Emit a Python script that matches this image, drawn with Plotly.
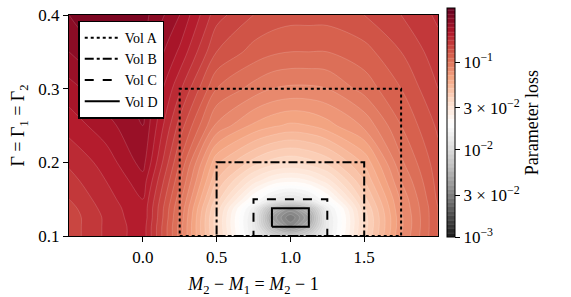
import plotly.graph_objects as go

# grid (x = M2 - 1, y = Gamma), values are log10(parameter loss)
x_vals = [-0.5, -0.25, 0.0, 0.25, 0.5, 0.75, 0.875, 1.0, 1.125, 1.25, 1.5, 1.75, 2.0]
y_vals = [0.1, 0.1125, 0.125, 0.1375, 0.15, 0.175, 0.2, 0.25, 0.3, 0.35, 0.4]
log_loss = [
    [-0.83, -0.74, -0.67, -1.02, -1.42, -1.85, -2.05, -2.15, -2.05, -1.85, -1.42, -1.10, -0.90],
    [-0.83, -0.74, -0.67, -1.02, -1.43, -1.87, -2.25, -2.45, -2.25, -1.87, -1.43, -1.11, -0.90],
    [-0.83, -0.74, -0.66, -1.01, -1.43, -1.87, -2.35, -2.55, -2.35, -1.87, -1.43, -1.11, -0.90],
    [-0.82, -0.73, -0.66, -1.00, -1.41, -1.83, -2.22, -2.40, -2.22, -1.83, -1.41, -1.10, -0.90],
    [-0.80, -0.72, -0.65, -0.98, -1.37, -1.70, -1.85, -1.92, -1.85, -1.70, -1.37, -1.09, -0.89],
    [-0.77, -0.70, -0.62, -0.94, -1.30, -1.52, -1.60, -1.63, -1.60, -1.52, -1.30, -1.05, -0.88],
    [-0.74, -0.68, -0.58, -0.90, -1.24, -1.37, -1.42, -1.44, -1.42, -1.38, -1.24, -1.01, -0.87],
    [-0.68, -0.62, -0.55, -0.82, -1.06, -1.16, -1.19, -1.21, -1.20, -1.17, -1.09, -0.95, -0.84],
    [-0.62, -0.56, -0.54, -0.74, -0.95, -1.02, -1.05, -1.06, -1.06, -1.05, -0.98, -0.90, -0.80],
    [-0.55, -0.50, -0.52, -0.66, -0.85, -0.92, -0.94, -0.95, -0.95, -0.95, -0.92, -0.85, -0.77],
    [-0.50, -0.47, -0.48, -0.60, -0.78, -0.85, -0.87, -0.88, -0.88, -0.88, -0.85, -0.80, -0.74],
]

# volumes: names, dash styles and bounds
vol_names = ["Vol A", "Vol B", "Vol C", "Vol D"]
vol_dash = ["dot", "dashdot", "dash", "solid"]
vol_x0 = [0.25, 0.5, 0.75, 0.875]
vol_x1 = [1.75, 1.5, 1.25, 1.125]
vol_y0 = [0.1, 0.1, 0.1, 0.1125]
vol_y1 = [0.3, 0.2, 0.15, 0.1375]

# colorbar ticks (log10 positions) and labels
cb_tickvals = [-1.0, -1.5229, -2.0, -2.5229, -3.0]
cb_ticktext = ["10<sup>−1</sup>", "3 × 10<sup>−2</sup>", "10<sup>−2</sup>",
               "3 × 10<sup>−2</sup>", "10<sup>−3</sup>"]

x_ticks = [0.0, 0.5, 1.0, 1.5]
x_ticktext = ["0.0", "0.5", "1.0", "1.5"]
y_ticks = [0.1, 0.2, 0.3, 0.4]
y_ticktext = ["0.1", "0.2", "0.3", "0.4"]

FONT = "Liberation Serif"
rdgy_r = [
    [0.0, "#1a1a1a"], [0.1, "#4d4d4d"], [0.2, "#878787"], [0.3, "#bababa"],
    [0.4, "#e0e0e0"], [0.5, "#ffffff"], [0.6, "#fddbc7"], [0.7, "#f4a582"],
    [0.8, "#d6604d"], [0.9, "#b2182b"], [1.0, "#67001f"],
]

zmin, zmax = -3.0, -0.38

fig = go.Figure()
fig.add_trace(go.Contour(
    x=x_vals, y=y_vals, z=log_loss,
    colorscale=rdgy_r, zmin=zmin, zmax=zmax,
    autocontour=False,
    contours=dict(start=zmin, end=zmax, size=0.05, coloring="fill"),
    line=dict(width=0.5, color="rgba(255,255,255,0.3)", smoothing=1.0),
    showlegend=False, hoverinfo="skip",
    colorbar=dict(
        x=1.0244, xanchor="left", xpad=0, ypad=0,
        y=-0.005, yanchor="bottom", lenmode="pixels", len=229,
        thickness=8, outlinecolor="black", outlinewidth=1,
        tickvals=cb_tickvals, ticktext=cb_ticktext,
        ticks="outside", ticklen=5, tickcolor="black", tickwidth=1,
        tickfont=dict(family=FONT, size=17, color="black"),
        title=dict(text="Parameter loss", side="right",
                   font=dict(family=FONT, size=18, color="black")),
    ),
))

for name, dash, x0, x1, y0, y1 in zip(vol_names, vol_dash, vol_x0, vol_x1, vol_y0, vol_y1):
    fig.add_trace(go.Scatter(
        x=[x0, x1, x1, x0, x0], y=[y0, y0, y1, y1, y0],
        mode="lines", name=name,
        line=dict(color="black", width=2, dash=dash),
        hoverinfo="skip",
    ))

fig.update_layout(
    width=571, height=297,
    margin=dict(l=69, r=133, t=15, b=61),
    paper_bgcolor="white", plot_bgcolor="white",
    font=dict(family=FONT, size=17, color="black"),
    legend=dict(
        x=0.025, y=0.975, xanchor="left", yanchor="top",
        bgcolor="white", bordercolor="black", borderwidth=1.5,
        font=dict(family=FONT, size=14), itemwidth=35,
        tracegroupgap=0,
    ),
    xaxis=dict(
        range=[-0.5, 2.0], tickvals=x_ticks, ticktext=x_ticktext,
        ticks="outside", ticklen=5, tickcolor="black",
        tickfont=dict(family=FONT, size=17), automargin=False,
        showgrid=False, zeroline=False, showline=True, linecolor="black",
        linewidth=1.2, mirror=True,
        title=dict(text="<i>M</i><sub>2</sub> − <i>M</i><sub>1</sub> = <i>M</i><sub>2</sub> − 1",
                   font=dict(family=FONT, size=18), standoff=12),
    ),
    yaxis=dict(
        range=[0.1, 0.4], tickvals=y_ticks, ticktext=y_ticktext,
        ticks="outside", ticklen=5, tickcolor="black",
        tickfont=dict(family=FONT, size=17), automargin=False,
        showgrid=False, zeroline=False, showline=True, linecolor="black",
        linewidth=1.2, mirror=True,
        title=dict(text="Γ = Γ<sub>1</sub> = Γ<sub>2</sub>",
                   font=dict(family=FONT, size=18), standoff=8),
    ),
)

fig.write_html("out.html")
